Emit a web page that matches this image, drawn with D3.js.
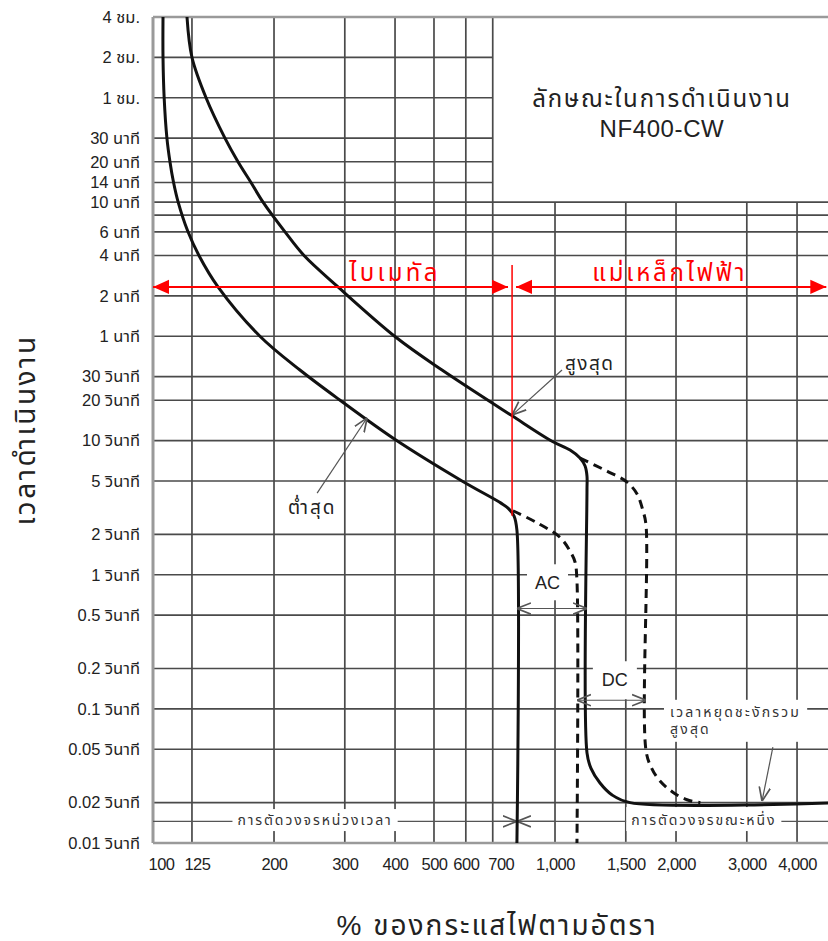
<!DOCTYPE html>
<html>
<head>
<meta charset="utf-8">
<script src="https://cdn.jsdelivr.net/npm/d3@7"></script>
<style>
  html, body { margin: 0; padding: 0; background: #fff; }
  svg { display: block; }
  .tick text { fill: #222; }
</style>
</head>
<body>
<svg id="chart" width="828" height="941"></svg>
<script>
// ---------------- data ----------------
const timeTicks = [14400, 7200, 3600, 1800, 1200, 840, 600, 360, 240, 120, 60, 30, 20, 10, 5, 2, 1, 0.5, 0.2, 0.1, 0.05, 0.02, 0.01];
const timeLabels = ["4 ชม.", "2 ชม.", "1 ชม.", "30 นาที", "20 นาที", "14 นาที", "10 นาที", "6 นาที", "4 นาที", "2 นาที", "1 นาที",
  "30 วินาที", "20 วินาที", "10 วินาที", "5 วินาที", "2 วินาที", "1 วินาที", "0.5 วินาที", "0.2 วินาที", "0.1 วินาที", "0.05 วินาที", "0.02 วินาที", "0.01 วินาที"];
const extraGridTimes = [480];
const currentTicks = [100, 125, 200, 300, 400, 500, 600, 700, 1000, 1500, 2000, 3000, 4000];
const currentLabels = ["100", "125", "200", "300", "400", "500", "600", "700", "1,000", "1,500", "2,000", "3,000", "4,000"];

// minimum operating curve (solid)
const minCurve = [[105.9, 14400], [105.9, 7200], [106.6, 3600], [108.3, 1800], [110.2, 1200], [112.5, 840], [115.5, 600],
  [122, 365], [130.1, 240], [145.1, 140], [184.5, 60], [232, 33.6], [292, 20], [402, 10.1], [587, 5], [734, 3.42],
  [764, 3.14], [791, 2.74], [804, 2.15], [804, 0.01]];
// maximum operating curve, AC (solid)
const maxCurve = [[121.5, 14400], [125, 7200], [135.5, 3600], [151, 1800], [162.7, 1200], [175.3, 840], [187.8, 600],
  [213, 360], [237.5, 240], [288.5, 140], [402, 59], [523.5, 33.6], [777, 15.5], [983, 9.9], [1090, 8.5], [1154, 7.41],
  [1188, 6.46], [1201, 5.44], [1201, 4.28], [1201, 0.047], [1229, 0.036], [1294, 0.028], [1387, 0.0228], [1537, 0.02], [5000, 0.02]];
// DC extension of the minimum curve (dashed)
const minDcCurve = [[786, 3.0], [900, 2.45], [1029, 1.9], [1090, 1.5], [1121, 1.25], [1134, 0.9], [1134, 0.01]];
// DC extension of the maximum curve (dashed)
const maxDcCurve = [[1154, 7.4], [1350, 5.9], [1511, 4.9], [1600, 4.0], [1655, 3.0], [1684, 2.35], [1684, 0.049],
  [1740, 0.036], [1825, 0.029], [1960, 0.024], [2130, 0.021], [2300, 0.02]];

// ---------------- setup ----------------
const svg = d3.select("#chart");
const x = d3.scaleLog().domain([100, 5000]).range([153, 836]);
const y = d3.scaleLog().domain([0.01, 14400]).range([843, 17]);

const thaiFont = "'Liberation Sans', 'Noto Sans Thai', 'Noto Sans', sans-serif";
const gridColor = "#4a4a4a";
const annoColor = "#555";
const red = "#ff0000";

const defs = svg.append("defs");
function marker(id, color, filled, size) {
  const m = defs.append("marker").attr("id", id).attr("viewBox", "0 0 10 10")
    .attr("refX", 10).attr("refY", 5).attr("markerWidth", size).attr("markerHeight", size)
    .attr("markerUnits", "userSpaceOnUse").attr("orient", "auto-start-reverse");
  if (filled) m.append("path").attr("d", "M0,0.5 L10,5 L0,9.5 Z").attr("fill", color);
  else m.append("path").attr("d", "M0,1 L10,5 L0,9").attr("fill", "none").attr("stroke", color).attr("stroke-width", 1.2);
}
marker("redHead", red, true, 16);
marker("grayHead", annoColor, false, 14);

// ---------------- grid ----------------
const grid = svg.append("g");
const hTimes = timeTicks.slice(1, -1).concat(extraGridTimes);
grid.selectAll("line.h").data(hTimes).join("line").attr("class", "h")
  .attr("x1", x(100)).attr("x2", d => d > 600 ? x(700) : x(5000))
  .attr("y1", d => y(d)).attr("y2", d => y(d))
  .attr("stroke", gridColor).attr("stroke-width", 1.7);
grid.selectAll("line.v").data(currentTicks.slice(1)).join("line").attr("class", "v")
  .attr("x1", d => x(d)).attr("x2", d => x(d))
  .attr("y1", d => d > 700 ? y(600) : y(14400)).attr("y2", y(0.01))
  .attr("stroke", gridColor).attr("stroke-width", 1.7);
// borders
grid.append("line").attr("x1", x(100)).attr("x2", x(5000)).attr("y1", y(14400)).attr("y2", y(14400)).attr("stroke", "#9a9a9a").attr("stroke-width", 2.5);
grid.append("line").attr("x1", x(100)).attr("x2", x(5000)).attr("y1", y(0.01)).attr("y2", y(0.01)).attr("stroke", "#9a9a9a").attr("stroke-width", 2.5);
grid.append("line").attr("x1", x(100)).attr("x2", x(100)).attr("y1", y(14400)).attr("y2", y(0.01)).attr("stroke", "#9a9a9a").attr("stroke-width", 3);

// dimension line across the bottom band
const dimT = 0.0145;
grid.append("line").attr("x1", x(100)).attr("x2", x(5000)).attr("y1", y(dimT)).attr("y2", y(dimT)).attr("stroke", annoColor).attr("stroke-width", 1.2);

// ---------------- axes ----------------
const yAxis = d3.axisLeft(y).tickValues(timeTicks).tickFormat((d, i) => timeLabels[i]).tickSize(0).tickPadding(13);
svg.append("g").attr("transform", `translate(${x(100)},0)`).call(yAxis)
  .call(g => g.select(".domain").remove())
  .selectAll("text").attr("font-family", thaiFont).attr("font-size", 16.5);

const xShift = { 100: 8, 125: 5, 700: 8 };
const xAxis = d3.axisBottom(x).tickValues(currentTicks).tickFormat((d, i) => currentLabels[i]).tickSize(0).tickPadding(15);
svg.append("g").attr("transform", `translate(0,${y(0.01)})`).call(xAxis)
  .call(g => g.select(".domain").remove())
  .selectAll("text").attr("font-family", "'Liberation Sans Narrow', 'Liberation Sans', sans-serif").attr("font-size", 16.5)
  .attr("letter-spacing", -0.5).attr("dx", d => xShift[d] || 0);

// axis titles
svg.append("text").attr("transform", `translate(35,${(y(14400) + y(0.01)) / 2}) rotate(-90)`)
  .attr("text-anchor", "middle").attr("font-family", thaiFont).attr("font-size", 28).attr("letter-spacing", 2.5).attr("fill", "#222")
  .text("เวลาดำเนินงาน");
svg.append("text").attr("x", 497).attr("y", 935).attr("text-anchor", "middle")
  .attr("font-family", thaiFont).attr("font-size", 28).attr("letter-spacing", 2).attr("fill", "#222")
  .text("% ของกระแสไฟตามอัตรา");

// ---------------- label helper with white background ----------------
function boxedText(px, py, lines, size, anchor, color, pad, lh, ls) {
  const g = svg.append("g");
  const rect = g.append("rect").attr("fill", "#fff");
  const t = g.append("text").attr("x", px).attr("y", py).attr("text-anchor", anchor)
    .attr("font-family", thaiFont).attr("font-size", size).attr("fill", color).attr("dominant-baseline", "middle")
    .attr("letter-spacing", ls || 0);
  lines.forEach((s, i) => t.append("tspan").attr("x", px).attr("dy", i === 0 ? 0 : lh).text(s));
  const b = t.node().getBBox();
  rect.attr("x", b.x - pad[0]).attr("y", b.y - pad[1]).attr("width", b.width + 2 * pad[0]).attr("height", b.height + 2 * pad[1]);
  return g;
}

// bottom band labels
boxedText(x(253), y(dimT), ["การตัดวงจรหน่วงเวลา"], 14, "middle", "#333", [5, 3], 0, 1.9);
boxedText(x(2345), y(dimT), ["การตัดวงจรขณะหนึ่ง"], 14, "middle", "#333", [5, 3], 0, 1.9);
// band arrowheads pointing to the trip boundary
[[700, 804], [1000, 804]].forEach(([a, b]) => {
  svg.append("line").attr("x1", x(a)).attr("x2", x(b)).attr("y1", y(dimT)).attr("y2", y(dimT))
    .attr("stroke", annoColor).attr("stroke-width", 1.2).attr("marker-end", "url(#grayHead)");
});

// AC / DC / annotation labels (white boxes hide the grid)
boxedText(x(958), y(0.86), ["AC"], 18, "middle", "#222", [8, 8]);
boxedText(x(1409), y(0.16), ["DC"], 18, "middle", "#222", [9, 9]);
boxedText(x(1932), y(0.093), ["เวลาหยุดชะงักรวม", "สูงสุด"], 14, "start", "#333", [6, 4], 17, 2.2);

// ---------------- curves ----------------
const line = d3.line().x(d => x(d[0])).y(d => y(d[1])).curve(d3.curveCatmullRom.alpha(0.5));
const curves = svg.append("g").attr("fill", "none").attr("stroke", "#111").attr("stroke-width", 3).attr("stroke-linejoin", "round");
curves.append("path").attr("d", line(minDcCurve)).attr("stroke-dasharray", "9,6");
curves.append("path").attr("d", line(maxDcCurve)).attr("stroke-dasharray", "9,6");
curves.append("path").attr("d", line(minCurve));
curves.append("path").attr("d", line(maxCurve));

// ---------------- dimension arrows ----------------
function dimArrow(a, b, t) {
  svg.append("line").attr("x1", x(a)).attr("x2", x(b)).attr("y1", y(t)).attr("y2", y(t))
    .attr("stroke", annoColor).attr("stroke-width", 1.2)
    .attr("marker-start", "url(#grayHead)").attr("marker-end", "url(#grayHead)");
}
dimArrow(804, 1201, 0.56);
dimArrow(1134, 1684, 0.116);

// pointer arrows
function pointer(a, b) {
  svg.append("line").attr("x1", x(a[0])).attr("y1", y(a[1])).attr("x2", x(b[0])).attr("y2", y(b[1]))
    .attr("stroke", annoColor).attr("stroke-width", 1.2).attr("marker-end", "url(#grayHead)");
}
pointer([1041, 33.6], [782, 15.5]);
pointer([256, 4.06], [341, 14.8]);
pointer([3483, 0.0518], [3273, 0.0205]);

svg.append("text").attr("x", x(1220)).attr("y", y(36.6)).attr("text-anchor", "middle").attr("dominant-baseline", "middle")
  .attr("font-family", thaiFont).attr("font-size", 19).attr("letter-spacing", 1.5).attr("fill", "#222").text("สูงสุด");
svg.append("text").attr("x", x(249)).attr("y", y(3.09)).attr("text-anchor", "middle").attr("dominant-baseline", "middle")
  .attr("font-family", thaiFont).attr("font-size", 19).attr("letter-spacing", 2).attr("fill", "#222").text("ต่ำสุด");

// ---------------- red annotations ----------------
const redG = svg.append("g").attr("stroke", red).attr("stroke-width", 2);
redG.append("line").attr("x1", x(100)).attr("x2", x(764)).attr("y1", y(140)).attr("y2", y(140))
  .attr("marker-start", "url(#redHead)").attr("marker-end", "url(#redHead)");
redG.append("line").attr("x1", x(800)).attr("x2", x(4730)).attr("y1", y(140)).attr("y2", y(140))
  .attr("marker-start", "url(#redHead)").attr("marker-end", "url(#redHead)");
redG.append("line").attr("x1", x(782)).attr("x2", x(782)).attr("y1", y(204)).attr("y2", y(2.75)).attr("stroke-width", 1.5);
svg.append("text").attr("x", x(400)).attr("y", y(140) - 6).attr("text-anchor", "middle")
  .attr("font-family", thaiFont).attr("font-size", 24).attr("letter-spacing", 3.3).attr("fill", red).text("ไบเมทัล");
svg.append("text").attr("x", x(1930)).attr("y", y(140) - 6).attr("text-anchor", "middle")
  .attr("font-family", thaiFont).attr("font-size", 24).attr("letter-spacing", 2.8).attr("fill", red).text("แม่เหล็กไฟฟ้า");

// ---------------- title ----------------
svg.append("text").attr("x", x(1845)).attr("y", y(3060)).attr("text-anchor", "middle")
  .attr("font-family", thaiFont).attr("font-size", 24).attr("letter-spacing", 1.8).attr("fill", "#222").text("ลักษณะในการดำเนินงาน");
svg.append("text").attr("x", x(1845)).attr("y", y(1839)).attr("text-anchor", "middle")
  .attr("font-family", thaiFont).attr("font-size", 24).attr("letter-spacing", 0.6).attr("fill", "#222").text("NF400-CW");
</script>
</body>
</html>
